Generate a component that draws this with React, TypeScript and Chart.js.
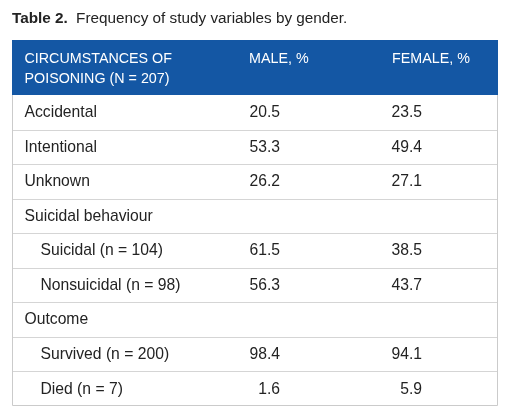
import React, { useEffect, useRef } from 'react';
import { Chart, registerables } from 'chart.js';

Chart.register(...registerables);

// ---- data ----
const titleBold = 'Table 2.';
const titleText = 'Frequency of study variables by gender.';
const headerLines = ['CIRCUMSTANCES OF', 'POISONING (N = 207)'];
const columnHeaders = ['MALE, %', 'FEMALE, %'];
const rowLabels = [
  'Accidental',
  'Intentional',
  'Unknown',
  'Suicidal behaviour',
  'Suicidal (n = 104)',
  'Nonsuicidal (n = 98)',
  'Outcome',
  'Survived (n = 200)',
  'Died (n = 7)',
];
const rowLevel = [0, 0, 0, 0, 1, 1, 0, 1, 1];
const maleValues: (number | null)[] = [20.5, 53.3, 26.2, null, 61.5, 56.3, null, 98.4, 1.6];
const femaleValues: (number | null)[] = [23.5, 49.4, 27.1, null, 38.5, 43.7, null, 94.1, 5.9];

// ---- styling ----
const FONT = '"Liberation Sans", Arial, Helvetica, sans-serif';
const BLUE = '#1457a4';
const TEXT = '#232323';
const LINE = '#d5d5d5';
const BORDER = '#cbcbcb';
const HEADER_H = 55;

const tablePlugin = {
  id: 'tableDraw',
  beforeDraw(chart: any) {
    const ctx = chart.ctx;
    ctx.save();
    ctx.fillStyle = '#ffffff';
    ctx.fillRect(0, 0, chart.width, chart.height);
    ctx.restore();
  },
  afterDraw(chart: any) {
    const ctx: CanvasRenderingContext2D = chart.ctx;
    const { left, right, top, bottom } = chart.chartArea;
    const yScale = chart.scales.y;
    const n = rowLabels.length;
    const band = (bottom - top) / n;

    const labelX = left + 12.5;
    const indent = 16;
    const maleHeadX = left + 237;
    const femaleHeadX = left + 380;
    const maleRight = left + 268;
    const femaleRight = left + 410;

    ctx.save();

    // title
    ctx.textBaseline = 'alphabetic';
    ctx.textAlign = 'left';
    ctx.fillStyle = TEXT;
    ctx.font = `bold 15.3px ${FONT}`;
    ctx.fillText(titleBold, left, 23);
    const bw = ctx.measureText(titleBold + ' ').width;
    ctx.font = `15.3px ${FONT}`;
    ctx.fillText(titleText, left + bw + 4, 23);

    // header
    const hTop = top - HEADER_H;
    ctx.fillStyle = BLUE;
    ctx.fillRect(left, hTop, right - left, HEADER_H);
    ctx.fillStyle = '#ffffff';
    ctx.font = `14.3px ${FONT}`;
    ctx.textBaseline = 'middle';
    ctx.fillText(headerLines[0], labelX, hTop + 19.5);
    ctx.fillText(headerLines[1], labelX, hTop + 39.5);
    ctx.fillText(columnHeaders[0], maleHeadX, hTop + 19.5);
    ctx.fillText(columnHeaders[1], femaleHeadX, hTop + 19.5);

    // row separators
    ctx.strokeStyle = LINE;
    ctx.lineWidth = 1;
    for (let i = 0; i < n - 1; i++) {
      const yy = Math.round(yScale.getPixelForValue(i) + band / 2) + 0.5;
      ctx.beginPath();
      ctx.moveTo(left, yy);
      ctx.lineTo(right, yy);
      ctx.stroke();
    }

    // outer border
    ctx.strokeStyle = BORDER;
    ctx.beginPath();
    ctx.moveTo(left + 0.5, top);
    ctx.lineTo(left + 0.5, bottom - 0.5);
    ctx.lineTo(right - 0.5, bottom - 0.5);
    ctx.lineTo(right - 0.5, top);
    ctx.stroke();

    // rows
    ctx.fillStyle = TEXT;
    ctx.font = `15.7px ${FONT}`;
    for (let i = 0; i < n; i++) {
      const cy = yScale.getPixelForValue(i) + 0.5;
      ctx.textAlign = 'left';
      ctx.fillText(rowLabels[i], labelX + rowLevel[i] * indent, cy);
      ctx.textAlign = 'right';
      const m = maleValues[i];
      const f = femaleValues[i];
      if (m !== null) ctx.fillText(m.toFixed(1), maleRight, cy);
      if (f !== null) ctx.fillText(f.toFixed(1), femaleRight, cy);
    }

    ctx.restore();
  },
};

export default function App() {
  const ref = useRef<HTMLCanvasElement>(null);

  useEffect(() => {
    document.body.style.margin = '0';
    const canvas = ref.current;
    if (!canvas) return;
    const chart = new Chart(canvas, {
      type: 'bar',
      data: {
        labels: rowLabels,
        datasets: [
          { label: columnHeaders[0], data: maleValues as any, backgroundColor: 'rgba(0,0,0,0)' },
          { label: columnHeaders[1], data: femaleValues as any, backgroundColor: 'rgba(0,0,0,0)' },
        ],
      },
      options: {
        indexAxis: 'y',
        responsive: false,
        animation: false,
        devicePixelRatio: 1,
        layout: { padding: { top: 95, left: 12, right: 12, bottom: 12 } },
        plugins: {
          legend: { display: false },
          title: { display: false },
          tooltip: { enabled: false },
        },
        scales: {
          x: { display: false, min: 0, max: 100 },
          y: { display: false, offset: true },
        },
      },
      plugins: [tablePlugin],
    });
    return () => chart.destroy();
  }, []);

  return (
    <div style={{ position: 'absolute', left: 0, top: 0, width: 510, height: 418 }}>
      <canvas ref={ref} width={510} height={418} />
    </div>
  );
}
